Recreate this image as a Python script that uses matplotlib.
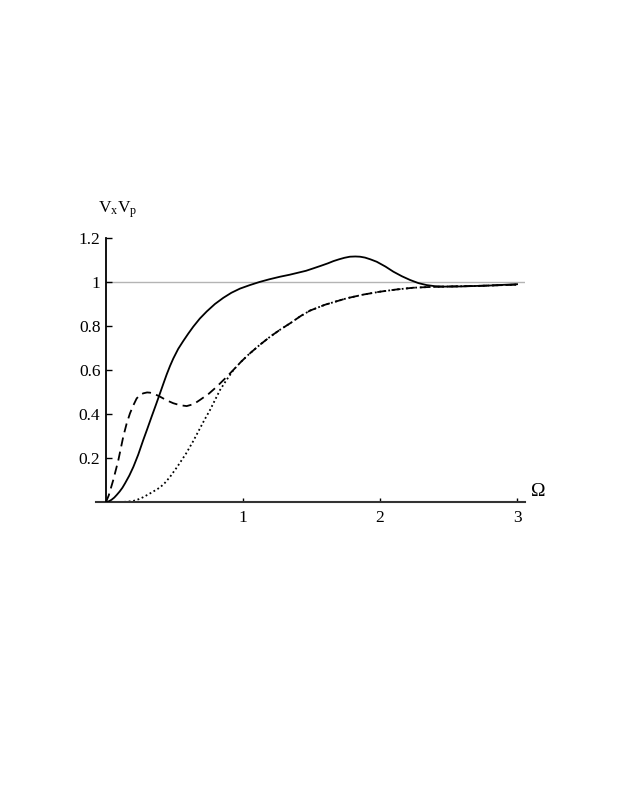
import matplotlib
matplotlib.use("Agg")
import matplotlib.pyplot as plt

plt.rcParams['font.family'] = ['Liberation Serif', 'DejaVu Serif']
plt.rcParams['mathtext.fontset'] = 'custom'
plt.rcParams['mathtext.rm'] = 'Liberation Serif'
plt.rcParams['mathtext.it'] = 'Liberation Serif'

# curve values (x = Omega)
solid_x = [0, 0.02, 0.04, 0.06, 0.078, 0.1, 0.12, 0.139, 0.17, 0.2, 0.235, 0.272,
           0.3, 0.333, 0.365, 0.394, 0.42, 0.443, 0.467, 0.491, 0.527, 0.564, 0.6,
           0.637, 0.685, 0.735, 0.795, 0.856, 0.915, 0.978, 1.05, 1.12, 1.19, 1.27,
           1.34, 1.4, 1.46, 1.513, 1.57, 1.62, 1.66, 1.70, 1.74, 1.78, 1.82, 1.854,
           1.89, 1.93, 1.976, 2.04, 2.097, 2.16, 2.22, 2.28, 2.34, 2.4, 2.46, 2.6,
           2.8, 3.0]
solid_y = [0, 0.003, 0.01, 0.02, 0.032, 0.048, 0.065, 0.085, 0.12, 0.16, 0.215, 0.282,
           0.33, 0.388, 0.443, 0.494, 0.54, 0.58, 0.618, 0.652, 0.696, 0.732, 0.765,
           0.797, 0.834, 0.866, 0.9, 0.928, 0.951, 0.97, 0.986, 1.0, 1.012, 1.024,
           1.033, 1.042, 1.051, 1.062, 1.074, 1.085, 1.095, 1.103, 1.11, 1.115, 1.116, 1.115,
           1.111, 1.103, 1.092, 1.07, 1.047, 1.026, 1.009, 0.995, 0.986, 0.981, 0.979, 0.98,
           0.984, 0.99]

dashed_x = [0, 0.02, 0.053, 0.09, 0.126, 0.15, 0.175, 0.2, 0.224, 0.25, 0.272, 0.3,
            0.321, 0.35, 0.394, 0.44, 0.491, 0.54, 0.589, 0.64, 0.686, 0.75, 0.808,
            0.87, 0.929, 0.985, 1.04, 1.12, 1.197, 1.27, 1.343, 1.42, 1.489, 1.6,
            1.757, 1.88, 2.0, 2.12, 2.243, 2.35, 2.46, 2.7, 3.0]
dashed_y = [0, 0.03, 0.1, 0.19, 0.297, 0.355, 0.403, 0.44, 0.471, 0.487, 0.494, 0.498,
            0.497, 0.492, 0.479, 0.463, 0.449, 0.44, 0.436, 0.445, 0.464, 0.492, 0.524,
            0.562, 0.6, 0.637, 0.67, 0.713, 0.751, 0.783, 0.812, 0.845, 0.87, 0.897,
            0.926, 0.943, 0.956, 0.966, 0.974, 0.977, 0.979, 0.982, 0.988]

dotted_x = [0.1, 0.15, 0.2, 0.24, 0.272, 0.33, 0.394, 0.43, 0.467, 0.52, 0.584,
            0.635, 0.686, 0.72, 0.759, 0.795, 0.832, 0.88, 0.93, 0.985, 1.04, 1.12,
            1.197, 1.27, 1.343, 1.42, 1.489, 1.6, 1.757, 1.88, 2.0, 2.12, 2.243,
            2.35, 2.46, 2.7, 3.0]
dotted_y = [0, 0.001, 0.005, 0.013, 0.022, 0.042, 0.066, 0.087, 0.114, 0.16, 0.22,
            0.275, 0.335, 0.375, 0.418, 0.463, 0.509, 0.555, 0.6, 0.637, 0.67, 0.713,
            0.751, 0.783, 0.812, 0.845, 0.87, 0.897, 0.926, 0.943, 0.956, 0.966, 0.974,
            0.977, 0.979, 0.982, 0.988]

y_ticks = [0.2, 0.4, 0.6, 0.8, 1.0, 1.2]
y_tick_labels = ["0.2", "0.4", "0.6", "0.8", "1", "1.2"]
x_ticks = [1, 2, 3]
x_tick_labels = ["1", "2", "3"]

fig = plt.figure(figsize=(6.23, 8.06), dpi=100)
ax = fig.add_axes([96 / 623, (806 - 502) / 806, 429 / 623, 264 / 806])
ax.set_xlim(-0.073, 3.058)
ax.set_ylim(0, 1.2)

# reference line at 1
ax.plot([0, 3.058], [1, 1], color="#b4b4b4", lw=1.0, zorder=1)

ax.plot(solid_x, solid_y, color="black", lw=1.3, zorder=3)
ax.plot(dashed_x, dashed_y, color="black", lw=1.3, dashes=(5, 3), zorder=3)
ax.plot(dotted_x, dotted_y, color="black", lw=1.3, linestyle=(0, (1, 1.5)), zorder=2)

for s in ("top", "right"):
    ax.spines[s].set_visible(False)
ax.spines["left"].set_position(("data", 0))
ax.spines["left"].set_bounds(0, 1.2)
ax.spines["left"].set_linewidth(1.3)
ax.spines["bottom"].set_linewidth(1.5)
ax.spines["bottom"].set_color("#333333")

ax.set_yticks(y_ticks)
ax.set_yticklabels(y_tick_labels)
ax.set_xticks(x_ticks)
ax.set_xticklabels(x_tick_labels)
ax.tick_params(axis="y", direction="in", length=4, width=1, pad=4, labelsize=12.5)
ax.tick_params(axis="x", direction="in", length=3, width=1, pad=6, labelsize=12.5)

fig.text(98 / 623, 1 - 210 / 806, r"$\mathrm{V_xV_p}$", fontsize=12.5, va="center", ha="left")
fig.text(531 / 623, 1 - 491 / 806, "Ω", fontsize=14, va="center", ha="left")

fig.savefig("out.png", dpi=100)
